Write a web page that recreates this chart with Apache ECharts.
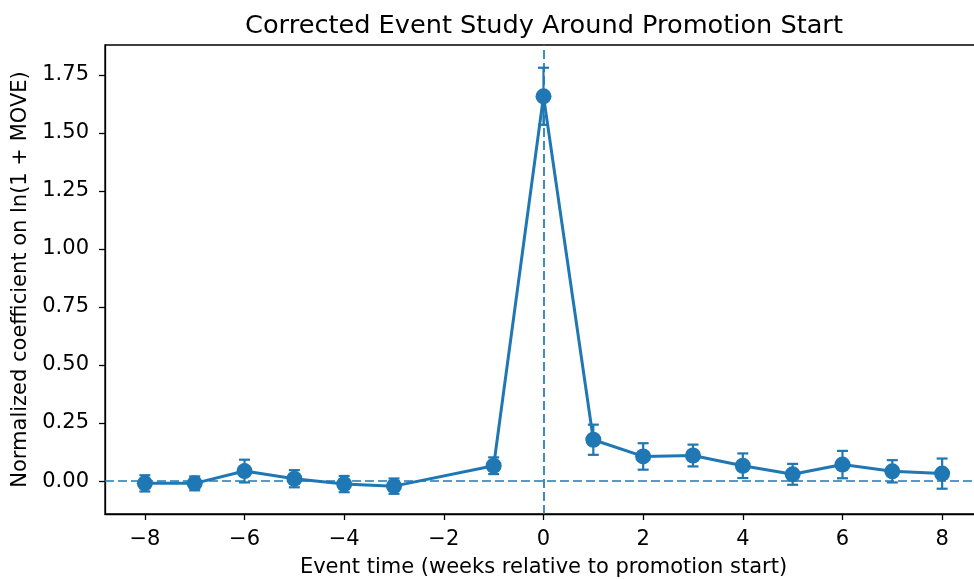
<!DOCTYPE html>
<html>
<head>
<meta charset="utf-8">
<script src="https://cdn.jsdelivr.net/npm/echarts@6/dist/echarts.min.js"></script>
<style>html,body{margin:0;padding:0;background:#fff;overflow:hidden;}#c{width:974px;height:579px;}</style>
</head>
<body>
<div id="c"></div>
<script>
const weeks = [-8, -7, -6, -5, -4, -3, -1, 0, 1, 2, 3, 4, 5, 6, 7, 8];
const coef = [-0.010, -0.010, 0.043, 0.010, -0.013, -0.022, 0.066, 1.658, 0.178, 0.106, 0.110, 0.066, 0.029, 0.071, 0.042, 0.032];
const ciHalf = [0.035, 0.030, 0.049, 0.037, 0.035, 0.033, 0.036, 0.123, 0.065, 0.057, 0.047, 0.053, 0.045, 0.059, 0.048, 0.065];
const xTicks = [-8, -6, -4, -2, 0, 2, 4, 6, 8];
const yTicks = [0, 0.25, 0.5, 0.75, 1.0, 1.25, 1.5, 1.75];

const blue = '#1f77b4';
const font = 'DejaVu Sans';
const linePts = weeks.map((w, i) => [w, coef[i]]);
const errPts = weeks.map((w, i) => [w, coef[i] - ciHalf[i], coef[i] + ciHalf[i]]);

const chart = echarts.init(document.getElementById('c'), null, {renderer: 'canvas'});
chart.setOption({
  animation: false,
  backgroundColor: '#fff',
  title: {
    text: 'Corrected Event Study Around Promotion Start',
    left: 539, top: 8, textAlign: 'center',
    textStyle: {fontFamily: font, fontSize: 25.6, fontWeight: 'normal', color: '#000'}
  },
  grid: {left: 105, width: 877, top: 45, height: 469, containLabel: false, outerBoundsMode: 'none',
    show: true, borderColor: '#000', borderWidth: 1.3, backgroundColor: 'transparent'},
  xAxis: {
    type: 'value', min: -8.8, max: 8.8,
    name: 'Event time (weeks relative to promotion start)',
    nameLocation: 'middle', nameGap: 43,
    nameTextStyle: {fontFamily: font, fontSize: 21, color: '#000'},
    axisLine: {show: true, onZero: false, lineStyle: {color: '#000', width: 1.3}},
    axisTick: {show: true, customValues: xTicks, length: 6, lineStyle: {color: '#000', width: 1.3}},
    axisLabel: {customValues: xTicks, fontFamily: font, fontSize: 21, color: '#000', margin: 15,
      formatter: v => (v < 0 ? '\u2212' + Math.abs(v) : String(v))},
    splitLine: {show: false}
  },
  yAxis: {
    type: 'value', min: -0.142, max: 1.879,
    name: 'Normalized coefficient on ln(1 + MOVE)',
    nameLocation: 'middle', nameGap: 70, nameRotate: 90,
    nameTextStyle: {fontFamily: font, fontSize: 21, color: '#000'},
    axisLine: {show: true, onZero: false, lineStyle: {color: '#000', width: 1.3}},
    axisTick: {show: true, customValues: yTicks, length: 6, lineStyle: {color: '#000', width: 1.3}},
    axisLabel: {customValues: yTicks, fontFamily: font, fontSize: 21, color: '#000', margin: 16,
      formatter: v => v.toFixed(2)},
    splitLine: {show: false}
  },
  series: [
    {
      type: 'custom',
      data: errPts,
      z: 3,
      renderItem: function (params, api) {
        const x = api.value(0);
        const lo = api.coord([x, api.value(1)]);
        const hi = api.coord([x, api.value(2)]);
        const hw = 5.5;
        const st = {stroke: blue, lineWidth: 2.2};
        return {
          type: 'group',
          children: [
            {type: 'line', shape: {x1: lo[0], y1: lo[1], x2: hi[0], y2: hi[1]}, style: st},
            {type: 'line', shape: {x1: lo[0] - hw, y1: lo[1], x2: lo[0] + hw, y2: lo[1]}, style: st},
            {type: 'line', shape: {x1: hi[0] - hw, y1: hi[1], x2: hi[0] + hw, y2: hi[1]}, style: st}
          ]
        };
      }
    },
    {
      type: 'line',
      data: linePts,
      z: 4,
      symbol: 'circle', symbolSize: 16, showAllSymbol: true,
      lineStyle: {color: blue, width: 3},
      itemStyle: {color: blue},
      markLine: {
        silent: true, symbol: 'none', label: {show: false},
        lineStyle: {color: blue, width: 1.7, type: [9, 4]},
        data: [{yAxis: 0}, {xAxis: 0}]
      }
    }
  ]
});
</script>
</body>
</html>
